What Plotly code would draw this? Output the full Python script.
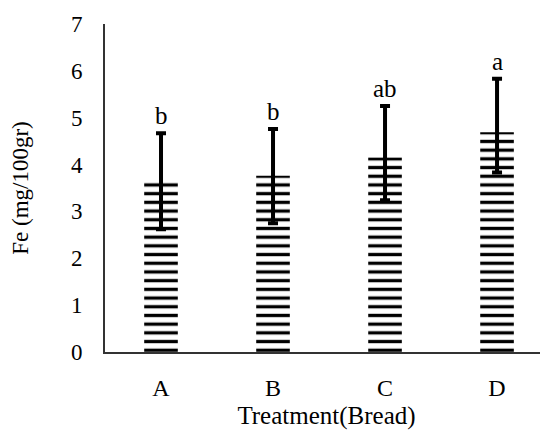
import plotly.graph_objects as go

categories = ["A", "B", "C", "D"]
means = [3.63, 3.76, 4.15, 4.69]
err_plus = [1.04, 1.0, 1.1, 1.14]
err_minus = [1.01, 1.01, 0.91, 0.86]
letters = ["b", "b", "ab", "a"]

serif = "Liberation Serif, Times New Roman, serif"

fig = go.Figure()
fig.add_trace(go.Bar(
    x=categories, y=means, width=0.3,
    marker=dict(color="white", line=dict(width=0),
                pattern=dict(shape="-", fgcolor="black", bgcolor="white",
                             fgopacity=1, size=8.7, solidity=0.38)),
    error_y=dict(type="data", symmetric=False, array=err_plus, arrayminus=err_minus,
                 visible=True, color="black", thickness=4, width=5),
    showlegend=False,
))

for cat, m, e, lab in zip(categories, means, err_plus, letters):
    fig.add_annotation(x=cat, y=m + e, text=lab, showarrow=False,
                       yanchor="bottom", yshift=2,
                       font=dict(family=serif, size=25, color="black"))

fig.update_layout(
    width=540, height=422,
    margin=dict(l=97, r=0, t=16, b=78, autoexpand=False),
    paper_bgcolor="white", plot_bgcolor="white",
    font=dict(family=serif, size=22, color="black"),
)
fig.update_xaxes(
    range=[-0.5, 3.455], showline=True, linecolor="#333", linewidth=2,
    ticks="", showgrid=False, ticklabelstandoff=13,
    tickfont=dict(family=serif, size=24),
    title=dict(text="Treatment(Bread)", font=dict(family=serif, size=25), standoff=8),
    automargin=False,
)
fig.update_yaxes(
    range=[0, 7], dtick=1, showline=True, linecolor="#333", linewidth=2,
    ticks="", showgrid=False, zeroline=False, ticklabelstandoff=16,
    tickfont=dict(family=serif, size=23),
    title=dict(text="Fe (mg/100gr)", font=dict(family=serif, size=23), standoff=36),
    automargin=False,
)

fig.write_html("out.html")
